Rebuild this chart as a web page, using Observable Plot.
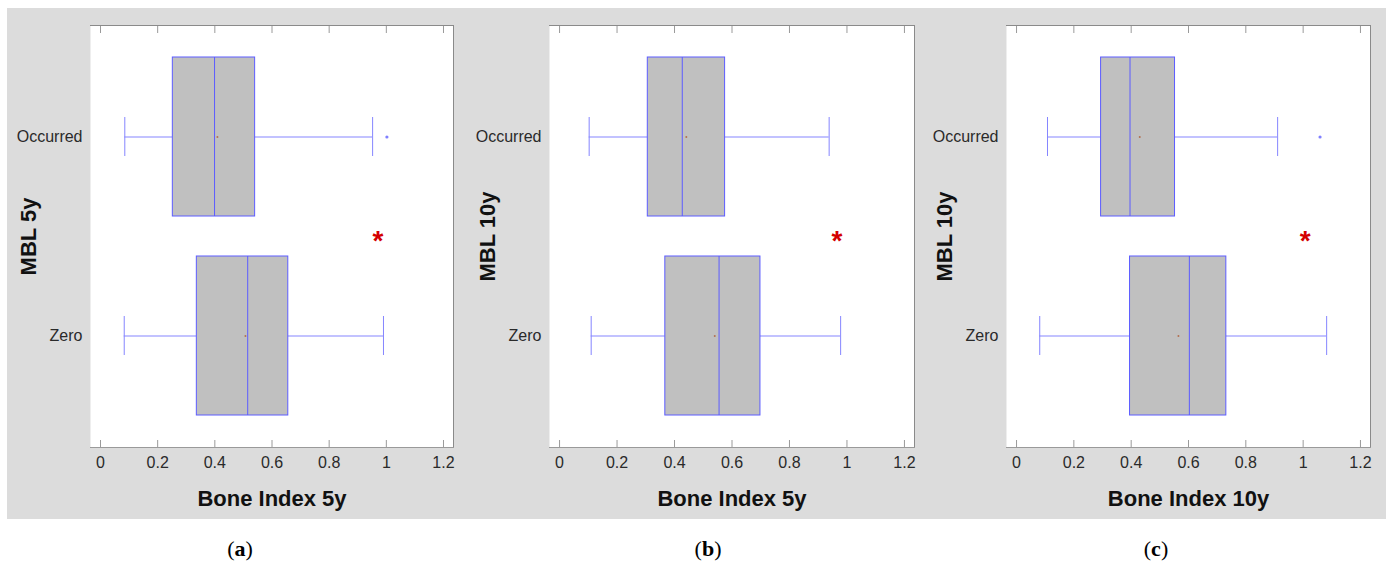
<!DOCTYPE html>
<html>
<head>
<meta charset="utf-8">
<script src="https://cdn.jsdelivr.net/npm/d3@7"></script>
<script src="https://cdn.jsdelivr.net/npm/@observablehq/plot@0.6"></script>
<style>
  html, body { margin: 0; padding: 0; background: #ffffff; }
  #root { position: relative; width: 1392px; height: 567px; overflow: hidden; }
  #bg { position: absolute; left: 7px; top: 8px; width: 1379px; height: 511px; background: #dcdcdc; }
  .panel { position: absolute; top: 8px; }
  .panel svg g[aria-label="x-axis label"] text,
  .panel svg g[aria-label="y-axis label"] text {
    font-family: "Liberation Sans", Arial, sans-serif; font-weight: bold; font-size: 22px; fill: #111;
  }
  .panel svg g[aria-label="x-axis tick label"] text,
  .panel svg g[aria-label="y-axis tick label"] text {
    font-family: "Liberation Sans", Arial, sans-serif; font-size: 16px; fill: #2a2a2a;
  }
  .cap { position: absolute; top: 536px; width: 60px; margin-left: -30px; text-align: center;
         font-family: "Liberation Serif", "DejaVu Serif", serif; font-size: 22px; color: #000; }
  .cap b { font-weight: bold; }
</style>
</head>
<body>
<div id="root"><div id="bg"></div></div>
<script>
// ---- data ----
const categories = ["Occurred", "Zero"];
const panelNames = ["a", "b", "c"];
const xLabels = ["Bone Index 5y", "Bone Index 5y", "Bone Index 10y"];
const yLabels = ["MBL 5y", "MBL 10y", "MBL 10y"];
const xTicks = [0, 0.2, 0.4, 0.6, 0.8, 1, 1.2];
// per panel: [Occurred, Zero]
const whiskerLow  = [[0.085, 0.083], [0.103, 0.110], [0.108, 0.081]];
const q1          = [[0.253, 0.337], [0.307, 0.368], [0.295, 0.396]];
const median      = [[0.399, 0.515], [0.427, 0.555], [0.396, 0.603]];
const q3          = [[0.541, 0.657], [0.576, 0.699], [0.553, 0.732]];
const whiskerHigh = [[0.952, 0.990], [0.938, 0.978], [0.911, 1.082]];
const mean        = [[0.409, 0.507], [0.441, 0.540], [0.430, 0.565]];
const outlierGroup = [["Occurred"], [], ["Occurred"]];
const outlierValue = [[1.002], [], [1.059]];
const starX = [0.971, 0.965, 1.007];

// ---- layout ----
const layout = [
  {left: 7,   width: 460, ml: 83, mr: 14},
  {left: 467, width: 460, ml: 82, mr: 13},
  {left: 927, width: 459, ml: 79, mr: 16}
];
const capX = [240, 708, 1156];
const root = document.getElementById("root");

panelNames.forEach((name, i) => {
  const boxes = categories.map((g, j) => ({
    group: g, lo: whiskerLow[i][j], q1: q1[i][j], med: median[i][j],
    q3: q3[i][j], hi: whiskerHigh[i][j], mean: mean[i][j]
  }));
  const outliers = outlierGroup[i].map((g, k) => ({group: g, value: outlierValue[i][k]}));
  const L = layout[i];
  const boxStroke = "#5c5cff";
  const whisk = "#8585ff";

  const chart = Plot.plot({
    width: L.width,
    height: 511,
    marginLeft: L.ml,
    marginRight: L.mr,
    marginTop: 17,
    marginBottom: 72,
    style: {background: "transparent", overflow: "visible"},
    x: {domain: [-0.035, 1.235]},
    y: {type: "band", domain: categories, paddingInner: 0.2, paddingOuter: 0.16},
    marks: [
      Plot.frame({fill: "#ffffff", stroke: null}),
      Plot.ruleY(boxes, {y: "group", x1: "lo", x2: "q1", stroke: whisk}),
      Plot.ruleY(boxes, {y: "group", x1: "q3", x2: "hi", stroke: whisk}),
      Plot.tickX(boxes, {y: "group", x: "lo", stroke: whisk, insetTop: 60, insetBottom: 60}),
      Plot.tickX(boxes, {y: "group", x: "hi", stroke: whisk, insetTop: 60, insetBottom: 60}),
      Plot.barX(boxes, {y: "group", x1: "q1", x2: "q3", fill: "#c0c0c0", stroke: boxStroke, strokeWidth: 1}),
      Plot.tickX(boxes, {y: "group", x: "med", stroke: boxStroke}),
      Plot.dot(boxes, {y: "group", x: "mean", r: 1, fill: "#b27050", stroke: null}),
      Plot.dot(outliers, {y: "group", x: "value", r: 1.6, fill: "#8080ff", stroke: null}),
      Plot.text([starX[i]], {x: d => d, y: () => "Occurred", text: () => "*", dy: 104,
        fill: "#d40000", fontSize: 28, fontWeight: "bold", fontFamily: "Liberation Sans, Arial, sans-serif"}),
      Plot.frame({anchor: "top", stroke: "#8a8a8a"}),
      Plot.frame({anchor: "right", stroke: "#8a8a8a"}),
      Plot.frame({anchor: "bottom", stroke: "#9a9a9a"}),
      Plot.axisX({anchor: "top", ticks: xTicks, tickSize: -7, tickFormat: () => "", stroke: "#9a9a9a", label: null}),
      Plot.axisX({anchor: "bottom", ticks: xTicks, tickSize: -7, tickPadding: 16, stroke: "#9a9a9a",
        tickFormat: d => String(d), label: xLabels[i], labelAnchor: "center", labelOffset: 58, labelArrow: "none"}),
      Plot.axisY({anchor: "left", tickSize: 0, tickPadding: 8, label: yLabels[i],
        labelAnchor: "center", labelOffset: 70, labelArrow: "none"})
    ]
  });
  const wrap = document.createElement("div");
  wrap.className = "panel";
  wrap.style.left = L.left + "px";
  wrap.appendChild(chart);
  root.appendChild(wrap);

  const cap = document.createElement("div");
  cap.className = "cap";
  cap.style.left = capX[i] + "px";
  cap.innerHTML = "(<b>" + name + "</b>)";
  root.appendChild(cap);
});
</script>
</body>
</html>
